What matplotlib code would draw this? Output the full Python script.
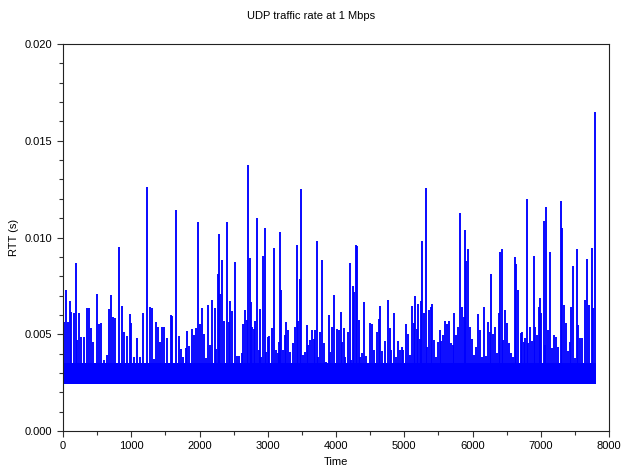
import matplotlib
matplotlib.use("Agg")
import matplotlib.pyplot as plt
from matplotlib.ticker import MultipleLocator, FormatStrFormatter

plt.rcParams["font.family"] = ["Liberation Sans", "DejaVu Sans"]

# RTT spikes above the dense noise floor (time index, seconds)
peak_time = [
    20, 49, 73, 107, 122, 156, 186, 210, 234, 264, 303, 352, 376, 410, 435, 493,
    523, 562, 596, 640, 674, 698, 737, 762, 815, 869, 899, 933, 977, 996, 1035,
    1089, 1123, 1172, 1226, 1270, 1299, 1333,
    1358, 1392, 1421, 1455, 1484, 1528, 1577, 1602, 1651, 1699, 1724, 1763, 1797,
    1821, 1846, 1885, 1924, 1948, 1973, 2002, 2036, 2061, 2090, 2119, 2154, 2183,
    2222, 2246, 2266, 2281, 2305, 2325, 2363, 2403, 2427, 2451, 2481, 2515, 2549,
    2583, 2617, 2642, 2666,
    2696, 2715, 2735, 2749, 2774, 2793, 2818, 2837, 2866, 2886, 2906, 2930, 2954,
    2979, 3003, 3023, 3057, 3086, 3120, 3145, 3169, 3179, 3199, 3228, 3252, 3272,
    3296, 3326, 3365, 3394, 3423, 3448, 3467, 3487, 3521, 3545, 3570, 3594, 3623,
    3648, 3677, 3697, 3716, 3736, 3765, 3794, 3824, 3853, 3892, 3912, 3941, 3975,
    4009,
    4043, 4068, 4087, 4112, 4136, 4175, 4200, 4224, 4244, 4263, 4288, 4307, 4332,
    4356, 4380, 4414, 4444, 4493, 4522, 4556, 4595, 4624, 4649, 4678, 4712, 4757,
    4786, 4810, 4844, 4878, 4908, 4932, 4961, 4986, 5020, 5059, 5079, 5108, 5137,
    5157, 5181, 5201, 5225, 5240, 5259, 5289, 5313, 5337, 5357,
    5386, 5411, 5435, 5460, 5494, 5518, 5543, 5562, 5591, 5626, 5650, 5679, 5709,
    5733, 5762, 5792, 5811, 5840, 5875, 5894, 5904, 5933, 5967, 5997, 6021, 6050,
    6085, 6114, 6138, 6163, 6197, 6231, 6256, 6270, 6300, 6324, 6353, 6383, 6402,
    6426, 6451, 6480, 6509, 6529, 6558, 6588, 6617, 6641, 6666, 6705, 6729,
    6749, 6773, 6798, 6812, 6837, 6871, 6905, 6920, 6949, 6969, 6988, 7008, 7042,
    7056, 7076, 7100, 7135, 7164, 7198, 7227, 7252, 7291, 7315, 7344, 7364, 7393,
    7423, 7447, 7467, 7496, 7525, 7545, 7579, 7608, 7642, 7672, 7706, 7745, 7769,
    7794,
]
peak_rtt = [
    0.00562, 0.00729, 0.00565, 0.00672, 0.00617, 0.00608, 0.00868, 0.00470, 0.00611,
    0.00487, 0.00487, 0.00634, 0.00637, 0.00531, 0.00462, 0.00708, 0.00553, 0.00558,
    0.00367, 0.00393, 0.00629, 0.00703, 0.00588, 0.00582, 0.00949, 0.00644, 0.00513,
    0.00493, 0.00603, 0.00560, 0.00384, 0.00482, 0.00384, 0.00608, 0.01260, 0.00643,
    0.00637, 0.00372,
    0.00562, 0.00536, 0.00462, 0.00539, 0.00540, 0.00479, 0.00600, 0.00595, 0.01142,
    0.00491, 0.00422, 0.00384, 0.00430, 0.00517, 0.00439, 0.00525, 0.00496, 0.00531,
    0.01080, 0.00553, 0.00634, 0.00501, 0.00376, 0.00650, 0.00444, 0.00675, 0.00637,
    0.00424, 0.00810, 0.01020, 0.00708, 0.00882, 0.00570, 0.01080, 0.00565, 0.00673,
    0.00619, 0.00873, 0.00388, 0.00388, 0.00401, 0.00553, 0.00625,
    0.00574, 0.01375, 0.00896, 0.00668, 0.00540, 0.00525, 0.00570, 0.01100, 0.00419,
    0.00629, 0.00384, 0.00904, 0.01047, 0.00410, 0.00487, 0.00491, 0.00531, 0.00948,
    0.00419, 0.00401, 0.00462, 0.01027, 0.00730, 0.00419, 0.00496, 0.00565, 0.00522,
    0.00410, 0.00456, 0.00539, 0.00963, 0.00570, 0.00784, 0.01251, 0.00393, 0.00410,
    0.00548, 0.00444, 0.00470, 0.00522, 0.00475, 0.00522, 0.00980, 0.00384, 0.00513,
    0.00882, 0.00453, 0.00355, 0.00600, 0.00410, 0.00539, 0.00703, 0.00525,
    0.00522, 0.00617, 0.00462, 0.00531, 0.00384, 0.00512, 0.00867, 0.00367, 0.00750,
    0.00720, 0.00961, 0.00957, 0.00574, 0.00384, 0.00405, 0.00668, 0.00388, 0.00556,
    0.00553, 0.00419, 0.00513, 0.00577, 0.00646, 0.00412, 0.00467, 0.00675, 0.00531,
    0.00419, 0.00610, 0.00384, 0.00464, 0.00419, 0.00432, 0.00419, 0.00553, 0.00501,
    0.00393, 0.00646, 0.00556, 0.00700, 0.00525, 0.00656, 0.00474, 0.00673, 0.00982,
    0.00608, 0.01257, 0.00434, 0.00625,
    0.00640, 0.00655, 0.00470, 0.00384, 0.00462, 0.00522, 0.00467, 0.00496, 0.00570,
    0.00553, 0.00570, 0.00453, 0.00444, 0.00611, 0.00496, 0.00536, 0.01125, 0.00643,
    0.00591, 0.01037, 0.00880, 0.00942, 0.00540, 0.00474, 0.00393, 0.00432, 0.00605,
    0.00522, 0.00380, 0.00640, 0.00388, 0.00565, 0.00513, 0.00810, 0.00503, 0.00540,
    0.00401, 0.00608, 0.00927, 0.00942, 0.00470, 0.00625, 0.00560, 0.00453, 0.00401,
    0.00380, 0.00901, 0.00861, 0.00730, 0.00505, 0.00513,
    0.00460, 0.00479, 0.01200, 0.00453, 0.00540, 0.00467, 0.00904, 0.00540, 0.00496,
    0.00643, 0.00686, 0.00608, 0.01087, 0.00444, 0.01156, 0.00522, 0.00923, 0.00427,
    0.00496, 0.00484, 0.00436, 0.01190, 0.01050, 0.00651, 0.00560, 0.00415, 0.00462,
    0.00643, 0.00853, 0.00376, 0.00940, 0.00548, 0.00479, 0.00479, 0.00677, 0.00889,
    0.00651, 0.00944, 0.00634, 0.01650,
]

# dense noise band that every sample sits in
floor_rtt = 0.00245
band_rtt = 0.0035
t_start, t_end = 0, 7810

fig = plt.figure(figsize=(6.22, 4.76), dpi=100)
ax = fig.add_axes([0.1013, 0.0945, 0.8778, 0.8131])

ax.axhspan(floor_rtt, band_rtt, xmin=t_start / 8000, xmax=t_end / 8000,
           color="blue", lw=0)
ax.vlines(peak_time, floor_rtt, peak_rtt, color="blue", lw=1.35)

ax.set_xlim(0, 8000)
ax.set_ylim(0, 0.020)
ax.xaxis.set_major_locator(MultipleLocator(1000))
ax.xaxis.set_minor_locator(MultipleLocator(500))
ax.yaxis.set_major_locator(MultipleLocator(0.005))
ax.yaxis.set_minor_locator(MultipleLocator(0.001))
ax.yaxis.set_major_formatter(FormatStrFormatter("%.3f"))
ax.tick_params(which="both", direction="out", top=False, right=False,
               labelsize=8, width=0.8, color="#333333")
ax.tick_params(which="major", length=4)
ax.tick_params(which="minor", length=3)
for s in ax.spines.values():
    s.set_linewidth(0.8)
    s.set_color("#222222")

ax.set_xlabel("Time", fontsize=8)
ax.set_ylabel("RTT (s)", fontsize=8)
fig.suptitle("UDP traffic rate at 1 Mbps", fontsize=8, y=0.977)

fig.savefig("out.png", dpi=100)
